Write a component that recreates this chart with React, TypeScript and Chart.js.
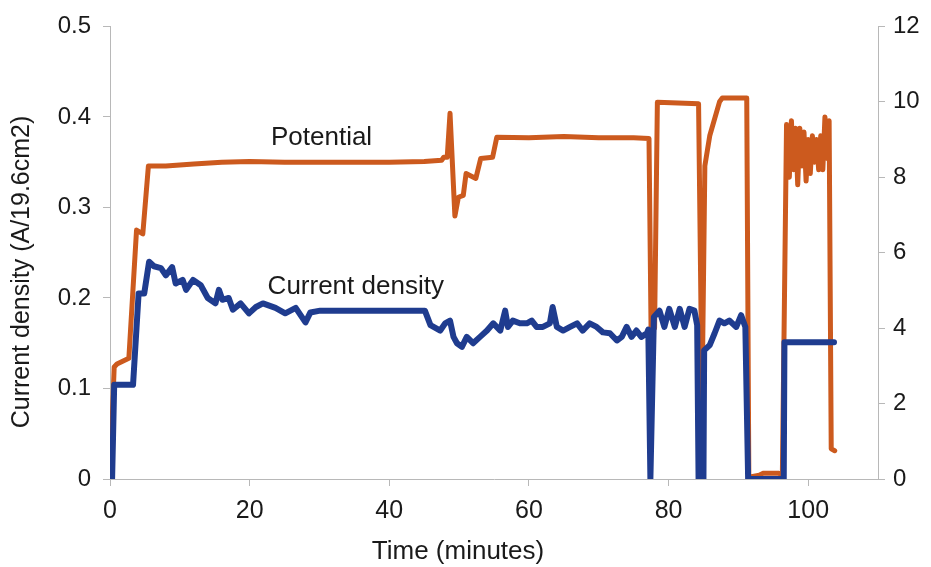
import React, { useEffect, useRef } from "react";
import { Chart, registerables } from "chart.js";

Chart.register(...registerables);

// Time axis (minutes) and tick labels
const xTicks = [0, 20, 40, 60, 80, 100];
const xMax = 110;
const leftTicksMax = 0.5;
const rightTicksMax = 12;

// Current density series (A/19.6cm2)
const cdTime = [
  0.3, 0.6, 3.3, 4.1, 4.9, 5.6, 6.3, 7.3, 8, 8.9, 9.4, 10.4, 10.9, 11.9, 13, 14, 15.1, 15.6, 16.1, 17,
  17.6, 18.7, 19.9, 20.9, 21.9, 23.7, 25.1, 26.6, 28, 28.7, 30.1, 45.1, 45.9, 47.3, 48.0, 48.7, 49.2,
  49.7, 50.4, 51.1, 52.0, 53.0, 54.0, 54.9, 55.9, 56.6, 57.0, 57.7, 58.7, 59.7, 60.4, 61.1, 62.0, 63.0,
  63.4, 64.0, 64.9, 65.9, 66.9, 67.7, 68.7, 69.7, 70.6, 71.6, 72.6, 73.3, 74.0, 74.7, 75.4, 76.1, 76.9,
  77.1, 77.4, 77.9, 78.7, 79.4, 80.1, 80.9, 81.6, 82.3, 83, 83.7, 84.1, 84.3, 85.0, 85.1, 85.9, 86.6,
  87.3, 88, 88.7, 89.7, 90.4, 91.0, 91.4, 96.5, 96.6, 103.7,
];
const cdValue = [
  0, 0.104, 0.104, 0.205, 0.205, 0.24, 0.235, 0.233, 0.225, 0.234, 0.216, 0.22, 0.209, 0.22, 0.214, 0.2,
  0.194, 0.209, 0.198, 0.2, 0.187, 0.194, 0.183, 0.19, 0.194, 0.189, 0.183, 0.189, 0.173, 0.184, 0.186,
  0.186, 0.17, 0.164, 0.172, 0.175, 0.157, 0.15, 0.146, 0.157, 0.15, 0.157, 0.164, 0.172, 0.164, 0.186,
  0.168, 0.175, 0.172, 0.172, 0.175, 0.168, 0.168, 0.172, 0.19, 0.168, 0.164, 0.168, 0.172, 0.164, 0.172,
  0.168, 0.162, 0.161, 0.153, 0.157, 0.168, 0.157, 0.164, 0.157, 0.161, 0.165, 0, 0.179, 0.186, 0.168,
  0.188, 0.168, 0.188, 0.168, 0.188, 0.186, 0.17, 0, 0, 0.142, 0.148, 0.161, 0.175, 0.172, 0.175, 0.168,
  0.181, 0.168, 0, 0, 0.151, 0.151,
];

// Potential series (right axis)
const potTime = [
  0, 0.6, 1.0, 2.7, 3.8, 4.7, 5.5, 8, 12, 16, 20, 25, 30, 35, 40, 45, 47.5, 47.8, 48.3, 48.7, 49.4, 49.9,
  50.6, 51.0, 52.4, 53.1, 54.8, 55.4, 60, 65, 70, 75, 77.2, 77.5, 78.0, 78.4, 84.3, 84.8, 85.2, 85.9,
  87.3, 87.7, 91.2, 91.5, 93.0, 93.5, 95.8, 96.3, 96.9, 97.3, 97.6, 97.9, 98.2, 98.5, 98.8, 99.1, 99.4,
  99.7, 100.0, 100.3, 100.6, 100.9, 101.2, 101.5, 101.8, 102.1, 102.4, 102.7, 103.0, 103.3, 103.8,
];
const potValue = [
  0, 2.97, 3.05, 3.2, 6.6, 6.5, 8.3, 8.3, 8.35, 8.4, 8.42, 8.4, 8.4, 8.4, 8.4, 8.42, 8.45, 8.53, 8.53, 9.7,
  6.97, 7.47, 7.52, 8.1, 7.97, 8.5, 8.53, 9.06, 9.05, 9.08, 9.05, 9.05, 9.03, 3.9, 4.0, 9.99, 9.95, 2.1,
  8.3, 9.1, 10.0, 10.1, 10.1, 0.05, 0.1, 0.15, 0.15, 0.1, 9.4, 8.0, 9.5, 8.2, 9.3, 7.8, 9.3, 8.3, 9.2,
  7.9, 9.0, 8.1, 9.1, 8.4, 9.0, 8.2, 9.1, 8.2, 9.6, 8.5, 9.5, 0.8, 0.75,
];

const xTitle = "Time (minutes)";
const yTitle = "Current density (A/19.6cm2)";
const potLabel = "Potential";
const cdLabel = "Current density";

const FONT = "'Liberation Sans', Arial, sans-serif";
const TEXT = "#1a1a1a";
const AXIS = "#b8b8b8";
const ORANGE = "#CC5A1E";
const BLUE = "#1F3C8F";

export default function App() {
  const ref = useRef<HTMLCanvasElement | null>(null);

  useEffect(() => {
    if (!ref.current) return;
    const textPlugin = {
      id: "texts",
      afterDraw(chart: any) {
        const ctx = chart.ctx;
        const xs = chart.scales.x;
        const yl = chart.scales.y;
        ctx.save();
        ctx.fillStyle = TEXT;
        ctx.textAlign = "center";
        ctx.textBaseline = "middle";
        ctx.font = `26px ${FONT}`;
        ctx.fillText(xTitle, 458, 552);
        ctx.save();
        ctx.translate(22, 272);
        ctx.rotate(-Math.PI / 2);
        ctx.font = `25px ${FONT}`;
        ctx.fillText(yTitle, 0, 0);
        ctx.restore();
        ctx.font = `26px ${FONT}`;
        ctx.fillText(potLabel, xs.getPixelForValue(30.3), yl.getPixelForValue(0.377));
        ctx.fillText(cdLabel, xs.getPixelForValue(35.2), yl.getPixelForValue(0.212));
        ctx.restore();
      },
    };
    const grid = {
      display: true,
      drawOnChartArea: false,
      drawTicks: true,
      tickLength: 7,
      color: AXIS,
    };
    const border = { display: true, color: AXIS, dash: [2, 2], width: 1 };
    const chart = new Chart(ref.current, {
      type: "scatter",
      data: {
        datasets: [
          {
            label: cdLabel,
            data: cdTime.map((t, i) => ({ x: t, y: cdValue[i] })),
            yAxisID: "y",
            showLine: true,
            borderColor: BLUE,
            backgroundColor: BLUE,
            borderWidth: 6,
            pointRadius: 0,
            borderJoinStyle: "round",
            borderCapStyle: "round",
          },
          {
            label: potLabel,
            data: potTime.map((t, i) => ({ x: t, y: potValue[i] })),
            yAxisID: "y2",
            showLine: true,
            borderColor: ORANGE,
            backgroundColor: ORANGE,
            borderWidth: 5,
            pointRadius: 0,
            borderJoinStyle: "round",
            borderCapStyle: "round",
          },
        ],
      },
      options: {
        animation: false,
        responsive: false,
        layout: { padding: { top: 25, left: 0, right: 0, bottom: 0 } },
        plugins: { legend: { display: false }, tooltip: { enabled: false } },
        scales: {
          x: {
            type: "linear",
            min: 0,
            max: xMax,
            grid,
            border,
            afterFit: (s: any) => {
              s.height = 88;
            },
            afterBuildTicks: (s: any) => {
              s.ticks = xTicks.map((v) => ({ value: v }));
            },
            ticks: { color: TEXT, font: { family: FONT, size: 25 }, padding: 10, maxRotation: 0 },
          },
          y: {
            type: "linear",
            position: "left",
            min: 0,
            max: leftTicksMax,
            grid,
            border,
            afterFit: (s: any) => {
              s.width = 110;
            },
            ticks: { stepSize: 0.1, color: TEXT, font: { family: FONT, size: 24 }, padding: 12 },
          },
          y2: {
            type: "linear",
            position: "right",
            min: 0,
            max: rightTicksMax,
            grid,
            border,
            afterFit: (s: any) => {
              s.width = 53;
            },
            ticks: { stepSize: 2, color: TEXT, font: { family: FONT, size: 24 }, padding: 8 },
          },
        },
      },
      plugins: [textPlugin],
    });
    return () => chart.destroy();
  }, []);

  return (
    <div style={{ position: "fixed", left: 0, top: 0, width: 931, height: 567, background: "#fff" }}>
      <canvas ref={ref} width={931} height={567} style={{ display: "block" }} />
    </div>
  );
}
